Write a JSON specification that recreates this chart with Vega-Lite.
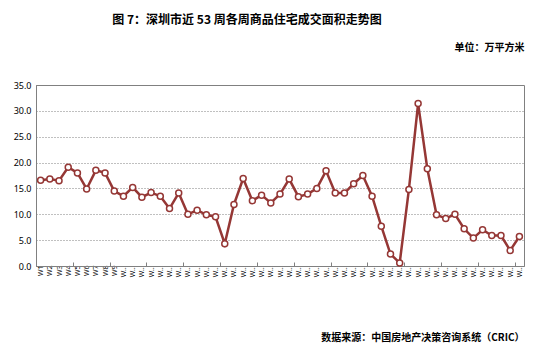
{
  "$schema": "https://vega.github.io/schema/vega-lite/v6.json",
  "autosize": "none",
  "width": 488,
  "height": 181,
  "padding": {"left": 36, "top": 85, "right": 36, "bottom": 87},
  "background": "white",
  "title": {
    "text": "图 7：深圳市近 53 周各周商品住宅成交面积走势图",
    "font": "Noto Sans CJK SC",
    "fontSize": 12,
    "fontWeight": "bold",
    "color": "#000000",
    "anchor": "middle",
    "frame": "group",
    "dx": -33,
    "offset": 15
  },
  "config": {
    "view": {"stroke": "#808080", "strokeWidth": 1},
    "font": "Noto Sans"
  },
  "data": {
    "values": [
      {"week": 1, "area": 16.6}, {"week": 2, "area": 16.8}, {"week": 3, "area": 16.5},
      {"week": 4, "area": 19.1}, {"week": 5, "area": 18.0}, {"week": 6, "area": 14.9},
      {"week": 7, "area": 18.5}, {"week": 8, "area": 18.0}, {"week": 9, "area": 14.5},
      {"week": 10, "area": 13.5}, {"week": 11, "area": 15.2}, {"week": 12, "area": 13.3},
      {"week": 13, "area": 14.2}, {"week": 14, "area": 13.5}, {"week": 15, "area": 11.1},
      {"week": 16, "area": 14.1}, {"week": 17, "area": 10.0}, {"week": 18, "area": 10.8},
      {"week": 19, "area": 9.9}, {"week": 20, "area": 9.5}, {"week": 21, "area": 4.3},
      {"week": 22, "area": 11.9}, {"week": 23, "area": 16.9}, {"week": 24, "area": 12.6},
      {"week": 25, "area": 13.7}, {"week": 26, "area": 12.2}, {"week": 27, "area": 13.9},
      {"week": 28, "area": 16.8}, {"week": 29, "area": 13.4}, {"week": 30, "area": 13.9},
      {"week": 31, "area": 15.0}, {"week": 32, "area": 18.4}, {"week": 33, "area": 14.1},
      {"week": 34, "area": 14.1}, {"week": 35, "area": 15.9}, {"week": 36, "area": 17.5},
      {"week": 37, "area": 13.5}, {"week": 38, "area": 7.7}, {"week": 39, "area": 2.3},
      {"week": 40, "area": 0.6}, {"week": 41, "area": 14.8}, {"week": 42, "area": 31.4},
      {"week": 43, "area": 18.8}, {"week": 44, "area": 9.9}, {"week": 45, "area": 9.2},
      {"week": 46, "area": 10.0}, {"week": 47, "area": 7.2}, {"week": 48, "area": 5.4},
      {"week": 49, "area": 7.0}, {"week": 50, "area": 5.9}, {"week": 51, "area": 5.9},
      {"week": 52, "area": 3.0}, {"week": 53, "area": 5.7}
    ]
  },
  "encoding": {
    "x": {
      "field": "week",
      "type": "quantitative",
      "scale": {"domain": [0.5, 53.5], "nice": false, "zero": false},
      "axis": {
        "values": [0.5, 1, 2, 3, 4, 4.5, 5, 6, 7, 8, 8.5, 9, 10, 11, 12, 12.5, 13, 14, 15, 16, 16.5, 17, 18, 19, 20, 20.5, 21, 22, 23, 24, 24.5, 25, 26, 27, 28, 28.5, 29, 30, 31, 32, 32.5, 33, 34, 35, 36, 36.5, 37, 38, 39, 40, 40.5, 41, 42, 43, 44, 44.5, 45, 46, 47, 48, 48.5, 49, 50, 51, 52, 52.5, 53],
        "labelExpr": "datum.value % 1 == 0 ? 'W' + datum.value : ''",
        "labelOverlap": false,
        "labelAngle": -90,
        "labelFontSize": 7,
        "labelLimit": 14,
        "labelPadding": 3,
        "labelColor": "#000000",
        "labelFlush": false,
        "tickOpacity": {"condition": {"test": "datum.value % 1 != 0", "value": 1}, "value": 0},
        "tickSize": -4,
        "tickColor": "#808080",
        "domainColor": "#808080",
        "grid": false,
        "title": "数据来源：中国房地产决策咨询系统（CRIC）",
        "titleFont": "Noto Sans CJK SC",
        "titleFontSize": 10,
        "titleFontWeight": "bold",
        "titleColor": "#000000",
        "titleAlign": "right",
        "titleBaseline": "middle",
        "titleAnchor": null,
        "titleX": 488,
        "titleY": 71
      }
    },
    "y": {
      "field": "area",
      "type": "quantitative",
      "scale": {"domain": [0, 35], "nice": false},
      "axis": {
        "values": [0, 5, 10, 15, 20, 25, 30, 35],
        "format": ".1f",
        "labelFontSize": 9,
        "labelColor": "#000000",
        "labelPadding": 5,
        "ticks": false,
        "domainColor": "#808080",
        "grid": true,
        "gridColor": "#808080",
        "gridDash": [1, 2],
        "gridWidth": 1,
        "title": "单位：万平方米",
        "titleFont": "Noto Sans CJK SC",
        "titleFontSize": 10,
        "titleFontWeight": "bold",
        "titleColor": "#000000",
        "titleAngle": 0,
        "titleAlign": "right",
        "titleBaseline": "middle",
        "titleX": 488,
        "titleY": -38
      }
    }
  },
  "layer": [
    {
      "mark": {"type": "line", "color": "#953735", "strokeWidth": 2.5}
    },
    {
      "mark": {"type": "point", "filled": true, "fill": "white", "stroke": "#953735", "strokeWidth": 1.5, "size": 36, "opacity": 1}
    }
  ]
}
